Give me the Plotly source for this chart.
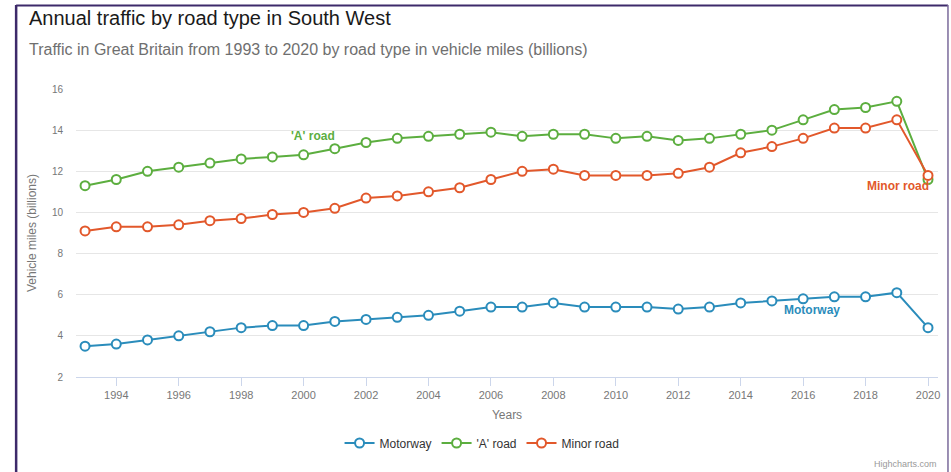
import plotly.graph_objects as go

years = list(range(1993, 2021))
motorway = [3.5, 3.6, 3.8, 4.0, 4.2, 4.4, 4.5, 4.5, 4.7, 4.8, 4.9, 5.0, 5.2, 5.4,
            5.4, 5.6, 5.4, 5.4, 5.4, 5.3, 5.4, 5.6, 5.7, 5.8, 5.9, 5.9, 6.1, 4.4]
a_road = [11.3, 11.6, 12.0, 12.2, 12.4, 12.6, 12.7, 12.8, 13.1, 13.4, 13.6, 13.7, 13.8, 13.9,
          13.7, 13.8, 13.8, 13.6, 13.7, 13.5, 13.6, 13.8, 14.0, 14.5, 15.0, 15.1, 15.4, 11.6]
minor_road = [9.1, 9.3, 9.3, 9.4, 9.6, 9.7, 9.9, 10.0, 10.2, 10.7, 10.8, 11.0, 11.2, 11.6,
              12.0, 12.1, 11.8, 11.8, 11.8, 11.9, 12.2, 12.9, 13.2, 13.6, 14.1, 14.1, 14.5, 11.8]
x_ticks = list(range(1994, 2021, 2))
y_ticks = [2, 4, 6, 8, 10, 12, 14, 16]

BLUE = "#2a8cbb"
GREEN = "#5cae3f"
ORANGE = "#e2582b"
FONT = "Liberation Sans Narrow, Liberation Sans, Arial, sans-serif"

fig = go.Figure()
for name, vals, col in [("Motorway", motorway, BLUE), ("'A' road", a_road, GREEN),
                        ("Minor road", minor_road, ORANGE)]:
    fig.add_trace(go.Scatter(
        x=years, y=vals, name=name, mode="lines+markers",
        line=dict(color=col, width=2),
        marker=dict(symbol="circle", size=9, color="white",
                    line=dict(color=col, width=2)),
    ))

fig.add_annotation(x=2000.3, y=13.72, text="<b>'A' road</b>", showarrow=False,
                   font=dict(family=FONT, size=12, color=GREEN))
fig.add_annotation(x=2019.05, y=11.28, text="<b>Minor road</b>", showarrow=False,
                   font=dict(family=FONT, size=12, color=ORANGE))
fig.add_annotation(x=2016.3, y=5.26, text="<b>Motorway</b>", showarrow=False,
                   font=dict(family=FONT, size=12, color=BLUE))

# titles
fig.add_annotation(xref="paper", yref="paper", x=(27 - 76) / 864, y=(377 - 18) / 288,
                   xanchor="left", yanchor="middle", showarrow=False,
                   text="Annual traffic by road type in South West",
                   font=dict(family=FONT, size=20, color="#1a1a1a"))
fig.add_annotation(xref="paper", yref="paper", x=(27 - 76) / 864, y=(377 - 50) / 288,
                   xanchor="left", yanchor="middle", showarrow=False,
                   text="Traffic in Great Britain from 1993 to 2020 by road type in vehicle miles (billions)",
                   font=dict(family=FONT, size=16, color="#6f6f6f"))
fig.add_annotation(xref="paper", yref="paper", x=(941 - 76) / 864, y=(377 - 464) / 288,
                   xanchor="right", yanchor="middle", showarrow=False,
                   text="Highcharts.com", font=dict(family=FONT, size=9, color="#999999"))

# border frame
fig.add_shape(type="line", xref="paper", yref="paper",
              x0=(16 - 76) / 864, x1=(16 - 76) / 864, y0=(377 - 5) / 288, y1=(377 - 480) / 288,
              line=dict(color="#3d2a6a", width=2.5))
fig.add_shape(type="line", xref="paper", yref="paper",
              x0=(16 - 76) / 864, x1=(950 - 76) / 864, y0=(377 - 5.5) / 288, y1=(377 - 5.5) / 288,
              line=dict(color="#3d2a6a", width=2))
fig.add_shape(type="line", xref="paper", yref="paper",
              x0=(950 - 76) / 864, x1=(950 - 76) / 864, y0=(377 - 5) / 288, y1=(377 - 480) / 288,
              line=dict(color="#7a6a9a", width=1.5))

fig.update_layout(
    width=951, height=472,
    margin=dict(l=76, r=11, t=89, b=95),
    plot_bgcolor="white", paper_bgcolor="white",
    font=dict(family=FONT, color="#666666"),
    showlegend=True,
    legend=dict(orientation="h", x=(483 - 76) / 864, xanchor="center", y=(377 - 443) / 288,
                yanchor="middle", font=dict(family=FONT, size=12, color="#333333"),
                itemwidth=30),
    xaxis=dict(range=[1992.71, 2020.32], tickvals=x_ticks, showgrid=False,
               showline=True, linecolor="#ccd6eb", ticks="outside", tickcolor="#ccd6eb",
               ticklen=8, tickfont=dict(size=11, color="#777777"),
               title=dict(text="Years", font=dict(size=12, color="#777777"), standoff=10),
               zeroline=False),
    yaxis=dict(range=[2, 16], tickvals=y_ticks, showgrid=True, gridcolor="#e6e6e6",
               showline=False, zeroline=False, tickfont=dict(size=10, color="#777777"),
               ticklabelstandoff=12,
               title=dict(text="Vehicle miles (billions)", font=dict(size=12, color="#777777"),
                          standoff=12)),
)

fig.write_html("out.html", config={"displayModeBar": False},
               post_script="document.body.style.margin='0';document.body.style.overflow='hidden';")
